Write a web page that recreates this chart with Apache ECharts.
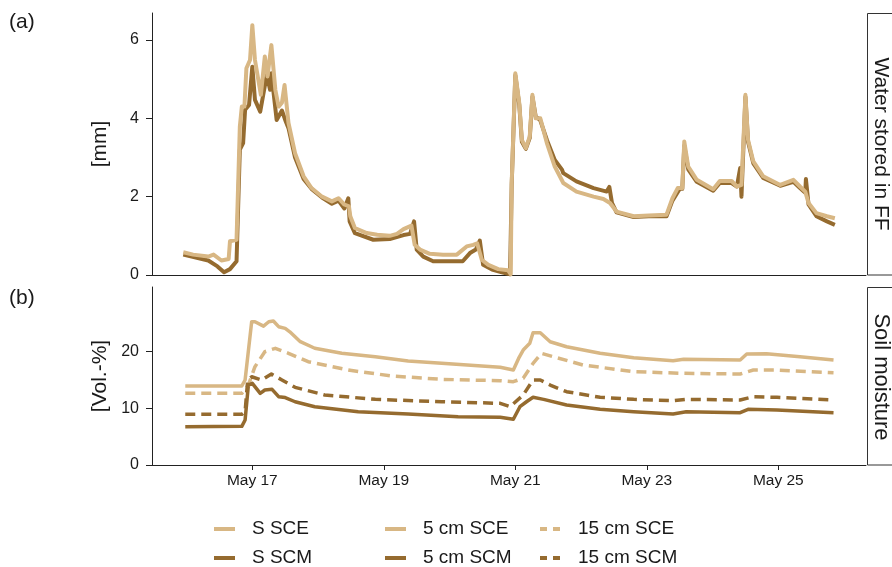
<!DOCTYPE html>
<html><head><meta charset="utf-8">
<script src="https://cdn.jsdelivr.net/npm/echarts@6/dist/echarts.min.js"></script>
<style>html,body{margin:0;padding:0;background:#fff}#c{width:892px;height:567px}</style>
</head><body><div id="c"></div>
<script>
// x values are day-of-May (fractional)
const xTickDays = [17, 19, 21, 23, 25];
const xTickLabels = ['May 17', 'May 19', 'May 21', 'May 23', 'May 25'];
const topYTicks = [0, 2, 4, 6];
const botYTicks = [0, 10, 20];

// (a) Water stored in FF [mm]
const sSceDay = [15.95,16.10,16.33,16.41,16.53,16.64,16.66,16.76,16.81,16.84,16.88,16.91,16.965,17.00,17.04,17.13,17.19,17.23,17.29,17.35,17.40,17.45,17.49,17.55,17.65,17.78,17.90,18.06,18.21,18.31,18.40,18.47,18.49,18.56,18.74,18.90,19.09,19.20,19.30,19.42,19.47,19.55,19.70,19.90,20.11,20.26,20.36,20.42,20.49,20.59,20.74,20.89,20.93,20.945,21.00,21.06,21.10,21.16,21.22,21.26,21.31,21.38,21.48,21.60,21.73,21.93,22.19,22.34,22.44,22.54,22.80,23.03,23.30,23.39,23.47,23.54,23.57,23.63,23.76,24.01,24.11,24.29,24.37,24.44,24.50,24.54,24.62,24.77,25.03,25.23,25.33,25.41,25.46,25.58,25.74,25.86];
const sSceVal = [0.58,0.52,0.47,0.52,0.37,0.41,0.86,0.90,3.79,4.30,4.30,5.28,5.49,6.38,5.49,4.60,5.58,5.07,5.87,4.73,4.30,4.40,4.85,3.88,3.11,2.52,2.22,2.00,1.88,1.96,1.80,1.75,1.50,1.20,1.07,1.03,1.00,1.05,1.17,1.26,0.77,0.65,0.54,0.52,0.52,0.73,0.77,0.81,0.39,0.26,0.15,0.12,0.02,2.35,5.15,4.39,3.45,3.24,3.54,4.60,4.00,4.00,3.37,2.77,2.35,2.13,2.00,1.94,1.84,1.62,1.50,1.52,1.54,1.96,2.22,2.22,3.41,2.77,2.43,2.19,2.40,2.40,2.26,2.30,4.60,3.45,2.90,2.52,2.30,2.43,2.26,2.13,1.84,1.58,1.50,1.45];
const sScmDay = [15.95,16.33,16.47,16.57,16.66,16.76,16.81,16.86,16.89,16.95,17.00,17.04,17.12,17.22,17.27,17.29,17.37,17.45,17.50,17.55,17.65,17.78,17.90,18.06,18.21,18.31,18.40,18.46,18.48,18.56,18.84,19.09,19.30,19.40,19.46,19.50,19.60,19.75,20.20,20.31,20.40,20.46,20.51,20.66,20.81,20.92,20.945,21.00,21.06,21.10,21.16,21.22,21.26,21.31,21.38,21.48,21.60,21.71,21.73,21.93,22.19,22.39,22.43,22.47,22.54,22.80,23.03,23.30,23.39,23.50,23.54,23.57,23.63,23.76,24.01,24.11,24.29,24.37,24.42,24.44,24.50,24.54,24.62,24.77,25.03,25.23,25.33,25.41,25.42,25.46,25.58,25.74,25.86];
const sScmVal = [0.52,0.37,0.22,0.07,0.15,0.35,3.20,3.37,4.22,4.34,5.32,4.47,4.17,5.11,4.73,5.15,3.96,4.20,3.96,3.75,3.00,2.45,2.20,1.98,1.82,1.90,1.70,1.96,1.37,1.07,0.90,0.92,1.02,1.05,1.37,0.65,0.47,0.35,0.35,0.56,0.65,0.88,0.26,0.13,0.06,0.02,2.30,5.10,4.35,3.40,3.22,3.50,4.55,4.05,3.95,3.45,2.94,2.69,2.60,2.39,2.22,2.13,2.25,1.84,1.60,1.48,1.50,1.50,1.90,2.20,2.20,3.30,2.70,2.38,2.15,2.35,2.35,2.26,2.73,2.00,4.55,3.40,2.85,2.48,2.28,2.38,2.22,2.10,2.45,1.80,1.50,1.37,1.28];

// (b) Soil moisture [Vol.-%]
const sce5Day = [15.98,16.84,16.89,16.99,17.04,17.17,17.25,17.32,17.40,17.50,17.57,17.73,17.95,18.36,18.87,19.37,19.88,20.49,20.77,20.97,21.05,21.12,21.22,21.27,21.38,21.53,21.78,22.29,22.80,23.40,23.56,24.42,24.52,24.82,25.33,25.84];
const sce5Val = [13.93,13.93,15.0,25.27,25.27,24.5,25.27,25.4,24.4,24.1,23.5,21.75,20.6,19.7,19.1,18.34,17.93,17.46,17.23,16.75,18.8,20.28,21.46,23.34,23.34,21.75,20.86,19.7,18.93,18.4,18.64,18.52,19.58,19.64,19.1,18.52];
const scm5Day = [15.98,16.84,16.89,16.94,17.00,17.12,17.19,17.30,17.40,17.50,17.65,17.95,18.61,19.37,20.13,20.77,20.97,21.07,21.17,21.27,21.43,21.78,22.29,22.80,23.40,23.60,24.42,24.54,24.98,25.84];
const scm5Val = [6.76,6.82,7.94,14.1,14.4,12.64,13.23,13.35,12.05,11.9,11.16,10.28,9.4,9.0,8.52,8.41,8.06,10.28,11.16,11.94,11.58,10.58,9.82,9.4,9.0,9.4,9.23,9.82,9.7,9.23];
const sce15Day = [15.98,16.84,16.94,17.04,17.19,17.35,17.55,17.85,18.46,19.12,19.88,20.77,20.97,21.12,21.27,21.40,21.58,22.03,22.80,23.56,24.42,24.62,24.98,25.84];
const sce15Val = [12.64,12.64,14.1,17.34,19.98,20.58,19.7,18.22,16.75,15.7,15.11,14.87,14.7,15.3,17.93,19.7,19.1,17.64,16.46,16.17,16.05,16.75,16.75,16.28];
const scm15Day = [15.98,16.84,16.89,16.93,16.99,17.14,17.29,17.45,17.65,18.10,18.87,19.88,20.77,20.92,21.12,21.27,21.38,21.53,21.78,22.29,22.80,23.40,23.60,24.42,24.62,24.98,25.84];
const scm15Val = [8.94,8.94,9.4,14.99,15.57,14.99,16.05,15.0,13.7,12.35,11.58,11.16,10.88,10.28,12.35,14.99,15.0,14.1,12.93,11.94,11.58,11.34,11.58,11.46,12.05,11.94,11.46];

const LIGHT = '#D8B784', DARK = '#956B2F', INK = '#1a1a1a';
const REG = '"Liberation Sans", Arial, sans-serif';
const X_MIN = 15.474, X_MAX = 26.334;

function pairs(d, v) { return d.map((x, i) => [x, v[i]]); }

const chart = echarts.init(document.getElementById('c'), null, { renderer: 'canvas' });

const axisLine = { show: true, lineStyle: { color: '#222', width: 1 } };

function xAxis(gridIndex, showLabels) {
  return {
    type: 'value', gridIndex, min: X_MIN, max: X_MAX,
    axisLine: { ...axisLine, onZero: false },
    splitLine: { show: false },
    axisTick: showLabels ? { show: true, customValues: xTickDays, length: 5, lineStyle: { color: '#222' } } : { show: false },
    axisLabel: showLabels ? {
      show: true, customValues: xTickDays, margin: 8,
      formatter: v => xTickLabels[xTickDays.indexOf(v)] || '',
      color: INK, fontSize: 15.5, fontFamily: REG
    } : { show: false }
  };
}
function yAxis(gridIndex, max, ticks, name) {
  return {
    type: 'value', gridIndex, min: 0, max,
    name, nameLocation: 'middle', nameGap: 41,
    nameTextStyle: { color: INK, fontSize: 21, fontFamily: REG },
    axisLine: axisLine,
    splitLine: { show: false },
    axisTick: { show: true, customValues: ticks, length: 6, lineStyle: { color: '#222' } },
    axisLabel: { show: true, customValues: ticks, margin: 13, color: INK, fontSize: 16, fontFamily: REG }
  };
}

function line(name, xi, data, color, width, dash) {
  return {
    name, type: 'line', xAxisIndex: xi, yAxisIndex: xi, data,
    symbol: 'none', showSymbol: false, animation: false,
    lineStyle: { color, width, type: dash || 'solid', cap: 'butt', join: 'round' },
    itemStyle: { color },
    emphasis: { disabled: true }
  };
}

const legendText = { color: INK, fontSize: 19, fontFamily: REG, lineHeight: 22, padding: [0, 0, 0, 12] };
function legend(left, items) {
  return {
    left, top: 518, height: 80, orient: 'vertical', itemWidth: 21, itemHeight: 14, itemGap: 7,
    selectedMode: false, padding: 0,
    lineStyle: { width: 4 },
    itemStyle: { opacity: 0 },
    textStyle: legendText,
    data: items
  };
}

chart.setOption({
  animation: false,
  backgroundColor: '#fff',
  grid: [
    { left: 152, right: 26, top: 13, height: 262, containLabel: false },
    { left: 152, right: 26, top: 287, height: 178, containLabel: false }
  ],
  xAxis: [xAxis(0, false), xAxis(1, true)],
  yAxis: [yAxis(0, 6.69, topYTicks, '[mm]'), yAxis(1, 31.4, botYTicks, '[Vol.-%]')],
  legend: [
    legend(212, [{ name: 'S SCE' }, { name: 'S SCM' }]),
    legend(383, [{ name: '5 cm SCE' }, { name: '5 cm SCM' }]),
    legend(538, [{ name: '15 cm SCE', lineStyle: { type: [7, 6] } }, { name: '15 cm SCM', lineStyle: { type: [7, 6] } }])
  ],
  series: [
    line('S SCM', 0, pairs(sScmDay, sScmVal), DARK, 4),
    line('S SCE', 0, pairs(sSceDay, sSceVal), LIGHT, 4),
    line('5 cm SCE', 1, pairs(sce5Day, sce5Val), LIGHT, 3.5),
    line('15 cm SCE', 1, pairs(sce15Day, sce15Val), LIGHT, 3.5, [10, 6]),
    line('15 cm SCM', 1, pairs(scm15Day, scm15Val), DARK, 3.5, [10, 6]),
    line('5 cm SCM', 1, pairs(scm5Day, scm5Val), DARK, 3.5)
  ],
  graphic: [
    { type: 'text', x: 9, y: 22, style: { text: '(a)', font: '21px ' + REG, fill: INK, align: 'left', verticalAlign: 'middle' } },
    { type: 'text', x: 9, y: 298, style: { text: '(b)', font: '21px ' + REG, fill: INK, align: 'left', verticalAlign: 'middle' } },
    { type: 'rect', shape: { x: 867.5, y: 13.5, width: 40, height: 261.5 }, style: { fill: '#fff', stroke: '#333', lineWidth: 1 } },
    { type: 'rect', shape: { x: 867.5, y: 287.5, width: 40, height: 177.5 }, style: { fill: '#fff', stroke: '#333', lineWidth: 1 } },
    { type: 'text', x: 881, y: 144, rotation: -Math.PI / 2, style: { text: 'Water stored in FF', font: '21px ' + REG, fill: INK, align: 'center', verticalAlign: 'middle' } },
    { type: 'text', x: 881, y: 377, rotation: -Math.PI / 2, style: { text: 'Soil moisture', font: '22px ' + REG, fill: INK, align: 'center', verticalAlign: 'middle' } }
  ]
});
</script>
</body></html>
